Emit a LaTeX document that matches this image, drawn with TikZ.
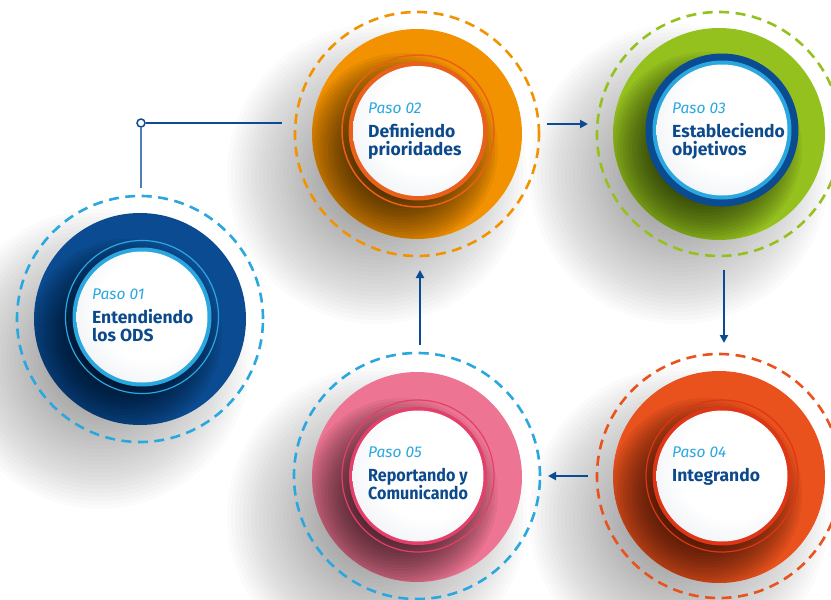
\documentclass[tikz,border=0pt]{standalone}
\usepackage{fontspec}
\setmainfont{Fira Sans}
\usetikzlibrary{arrows.meta,calc}
\definecolor{navy}{HTML}{0B4B91}
\definecolor{cyanc}{HTML}{2AA7DF}
\definecolor{orng}{HTML}{F39200}
\definecolor{orngdk}{HTML}{E8601A}
\definecolor{grn}{HTML}{95C11F}
\definecolor{redo}{HTML}{E9511D}
\definecolor{redodk}{HTML}{DE3516}
\definecolor{pnk}{HTML}{EE7493}
\definecolor{pnkdk}{HTML}{E43F6B}
\definecolor{txtnavy}{HTML}{0D4A8C}
\definecolor{discedge}{HTML}{D3DBE6}
\definecolor{linkblue}{HTML}{4F7EB8}
\pgfdeclareradialshading{whitedisc}{\pgfpoint{6bp}{6bp}}{color(0bp)=(white); color(20bp)=(white); color(50bp)=(discedge)}
\tikzset{
  dashring/.style={circle, inner sep=0pt, outer sep=0pt, line width=2.6pt, dash pattern=on 10pt off 6.5pt},
  disc/.style={circle, inner sep=0pt, outer sep=0pt},
  wdisc/.style={circle, inner sep=0pt, outer sep=0pt, shade, shading=whitedisc},
  pasotxt/.style={anchor=base west, inner sep=0pt, text=cyanc, font=\fontsize{15.5}{18}\selectfont\itshape},
  steptxt/.style={anchor=base west, inner sep=0pt, text=txtnavy, font=\fontsize{17.5}{19}\selectfont\bfseries},
  arr/.style={navy, line width=2pt, -{Triangle[length=8pt,width=8pt]}},
  link/.style={line width=2pt},
  softout/.style={black, opacity=0.016},
  softin/.style={black, opacity=0.05}
}
\newcommand\outshadow[2]{\foreach \rr in {150,146,...,42} \fill[softout] (#1,#2) circle (\rr);}
\newcommand\inshadow[5]{\begin{scope}\clip (#1,#2) circle (#3);
  \foreach \rr in {97,94,...,31} \fill[softin] (#4,#5) circle (\rr);\end{scope}}
\begin{document}
\begin{tikzpicture}[x=1pt,y=-1pt]
\useasboundingbox (0,0) rectangle (831,600);
\clip (0,0) rectangle (831,600);
% outer soft shadows
\outshadow{100}{359}
\outshadow{377}{174}
\outshadow{679}{174}
\outshadow{679}{517}
\outshadow{377}{517}
% dashed rings
\node[dashring, draw=cyanc, minimum size=246pt] (d1) at (140,319) {};
\node[dashring, draw=orng, minimum size=244pt] (d2) at (417,134) {};
\node[dashring, draw=grn, minimum size=244pt] (d3) at (719,134) {};
\node[dashring, draw=redo, minimum size=244pt] (d4) at (719,476) {};
\node[dashring, draw=cyanc, minimum size=246pt] (d5) at (417,476) {};
% step 1
\node[disc, fill=navy, minimum size=212pt] (b1) at (140,319) {};
\inshadow{140}{319}{106}{125}{336}
\draw[cyanc, line width=1.2pt] (142,317) circle (76.5);
\fill[cyanc] (142,317) circle (69.5);
\node[wdisc, minimum size=131pt] (w1) at (142,317) {};
% step 2
\node[disc, fill=orng, minimum size=210pt] (b2) at (417,134) {};
\inshadow{417}{134}{105}{401}{150}
\draw[orngdk, line width=1.5pt] (418,131) circle (76);
\fill[orngdk] (418,131) circle (69.5);
\node[wdisc, minimum size=130pt] (w2) at (418,131) {};
% step 3
\node[disc, fill=grn, minimum size=212pt] (b3) at (719,134) {};
\inshadow{719}{134}{106}{705}{149}
\fill[navy] (722,130) circle (76.5);
\fill[cyanc] (722,130) circle (69.5);
\node[wdisc, minimum size=131pt] (w3) at (722,130) {};
% step 4
\node[disc, fill=redo, minimum size=212pt] (b4) at (719,477) {};
\inshadow{719}{477}{106}{705}{495}
\draw[redodk, line width=1.2pt] (722,476) circle (76);
\fill[redodk] (722,476) circle (69.5);
\node[wdisc, minimum size=131pt] (w4) at (722,476) {};
% step 5
\node[disc, fill=pnk, minimum size=210pt] (b5) at (417,477) {};
\inshadow{417}{477}{105}{401}{495}
\draw[pnkdk, line width=1.2pt] (418,476) circle (76);
\fill[pnkdk] (418,476) circle (69);
\node[wdisc, minimum size=131pt] (w5) at (418,476) {};
% texts
\node[pasotxt] (p1) at (92,299) {Paso 01};
\node[steptxt] (t1a) at (92,323) {Entendiendo};
\node[steptxt] (t1b) at (92,341.5) {los ODS};
\node[pasotxt] (p2) at (368,113) {Paso 02};
\node[steptxt] (t2a) at (368,137) {Definiendo};
\node[steptxt] (t2b) at (368,155.5) {prioridades};
\node[pasotxt] (p3) at (672,113) {Paso 03};
\node[steptxt] (t3a) at (672,137) {Estableciendo};
\node[steptxt] (t3b) at (672,155.5) {objetivos};
\node[pasotxt] (p4) at (672,457) {Paso 04};
\node[steptxt] (t4a) at (672,481) {Integrando};
\node[pasotxt] (p5) at (368,457) {Paso 05};
\node[steptxt] (t5a) at (368,481) {\scalebox{0.92}[1]{Reportando y}};
\node[steptxt] (t5b) at (368,499.5) {\scalebox{0.92}[1]{Comunicando}};
% connectors
\node[circle, draw=navy, fill=white, line width=1.5pt, inner sep=0pt, minimum size=8pt] (knot) at (141,123) {};
\coordinate (e12) at (282,123);
\draw[link, linkblue] ($(d1.north)+(1,-8)$) -- (knot.south);
\draw[link, navy] (knot.east) -- (e12);
\draw[arr] ($(d2.east)+(8,-10)$) -- ($(d3.west)+(-9,-10)$);
\draw[arr] ($(d3.south)+(5,14)$) -- ($(d4.north)+(5,-11)$);
\draw[arr] ($(d4.west)+(-9,0)$) -- ($(d5.east)+(8,0)$);
\draw[arr] ($(d5.north)+(3,-8)$) -- ($(d2.south)+(3,14)$);
\end{tikzpicture}
\end{document}
